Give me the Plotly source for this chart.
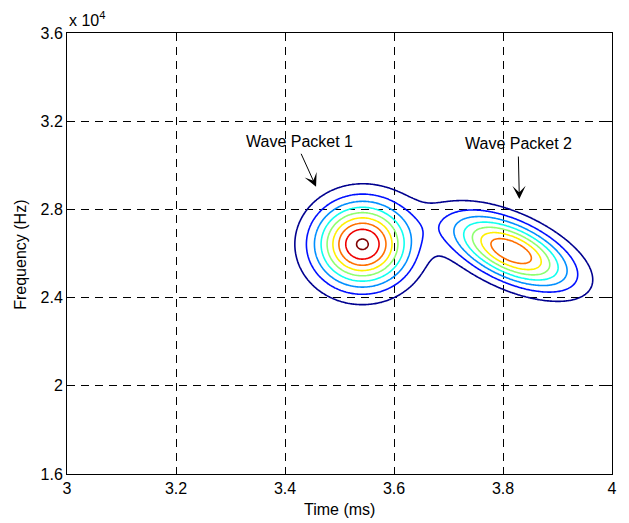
import numpy as np
import plotly.graph_objects as go

# ---- values ----
packet_labels = ["Wave Packet 1", "Wave Packet 2"]
packet_time_ms = [3.542, 3.815]          # packet centres (time)
packet_freq_hz = [26420, 26110]          # packet centres (frequency)
packet_sigma_time_ms = [0.0589, 0.0735]  # spread in time
packet_sigma_freq_hz = [1302, 1120]      # spread in frequency
packet_corr = [0.0, -0.57]               # time-frequency tilt (chirp)
packet_amplitude = [9.15, 7.95]          # peak, in contour-level units

contour_levels = [1, 2, 3, 4, 5, 6, 7, 8, 9]

x_tick_vals = [3, 3.2, 3.4, 3.6, 3.8, 4]
x_tick_text = ["3", "3.2", "3.4", "3.6", "3.8", "4"]
y_tick_vals = [16000, 20000, 24000, 28000, 32000, 36000]
y_tick_text = ["1.6", "2", "2.4", "2.8", "3.2", "3.6"]

arrow_head_time = [3.457, 3.830]
arrow_head_freq = [29030, 28470]
label_time = [3.427, 3.829]
label_freq = [31070, 31010]

# ---- styles ----
level_colors = ["rgb(0,0,143)", "rgb(0,16,255)", "rgb(0,143,255)",
                "rgb(16,255,239)", "rgb(143,255,112)", "rgb(255,239,0)",
                "rgb(255,112,0)", "rgb(239,0,0)", "rgb(128,0,0)"]
FONT = "Liberation Sans, Arial, sans-serif"

# ---- field ----
t = np.linspace(3.0, 4.0, 401)
f = np.linspace(16000, 36000, 401)
T, F = np.meshgrid(t, f)
Z = np.zeros_like(T)
for t0, f0, st, sf, r, a in zip(packet_time_ms, packet_freq_hz, packet_sigma_time_ms,
                                packet_sigma_freq_hz, packet_corr, packet_amplitude):
    u = (T - t0) / st
    v = (F - f0) / sf
    q = (u * u - 2 * r * u * v + v * v) / (1 - r * r)
    Z += a * np.exp(-q / 2)

n = len(level_colors)
colorscale = [[i / (n - 1), c] for i, c in enumerate(level_colors)]

fig = go.Figure()
fig.add_trace(go.Contour(
    x=t, y=f, z=Z,
    contours=dict(coloring="lines", start=contour_levels[0], end=contour_levels[-1],
                  size=contour_levels[1] - contour_levels[0]),
    colorscale=colorscale, showscale=False, line=dict(width=1.6, smoothing=1),
    hoverinfo="skip",
))

annotations = []
for lab, lt, lf in zip(packet_labels, label_time, label_freq):
    annotations.append(dict(x=lt, y=lf, xref="x", yref="y", text=lab, showarrow=False,
                            font=dict(family=FONT, size=16, color="black"),
                            xanchor="center", yanchor="middle"))
annotations.append(dict(x=arrow_head_time[0], y=arrow_head_freq[0], xref="x", yref="y",
                        ax=-15.6, ay=-34.4, text="", showarrow=True, arrowhead=3,
                        arrowsize=2.2, arrowwidth=1, arrowcolor="black", standoff=0))
annotations.append(dict(x=arrow_head_time[1], y=arrow_head_freq[1], xref="x", yref="y",
                        ax=-1, ay=-44, text="", showarrow=True, arrowhead=3,
                        arrowsize=2.2, arrowwidth=1, arrowcolor="black", standoff=0))
annotations.append(dict(x=0.5, y=-0.0816, xref="paper", yref="paper", text="Time (ms)",
                        showarrow=False, font=dict(family=FONT, size=16, color="black"),
                        xanchor="center", yanchor="middle"))
annotations.append(dict(x=-0.0855, y=0.498, xref="paper", yref="paper",
                        text="Frequency (Hz)", textangle=-90, showarrow=False,
                        font=dict(family=FONT, size=16, color="black"),
                        xanchor="center", yanchor="middle"))
annotations.append(dict(x=0.0, y=1.0317, xref="paper", yref="paper",
                        text="x 10<sup>4</sup>", showarrow=False,
                        font=dict(family=FONT, size=16, color="black"),
                        xanchor="left", yanchor="middle"))

axis_common = dict(showline=True, linecolor="black", linewidth=1, mirror="ticks",
                   ticks="inside", ticklen=6, tickcolor="black", showgrid=True,
                   gridcolor="black", gridwidth=1, griddash="8px,6px", zeroline=False,
                   tickfont=dict(family=FONT, size=16, color="black"))

# page body has an 8px margin, so the figure is shifted by 8px; compensate
fig.update_layout(
    width=621, height=515,
    margin=dict(l=59, r=12, t=25, b=49),
    paper_bgcolor="white", plot_bgcolor="white",
    showlegend=False,
    annotations=annotations,
    xaxis=dict(range=[3, 4], tickvals=x_tick_vals, ticktext=x_tick_text, **axis_common),
    yaxis=dict(range=[16000, 36000], tickvals=y_tick_vals, ticktext=y_tick_text,
               **axis_common),
)

fig.write_html("out.html")
